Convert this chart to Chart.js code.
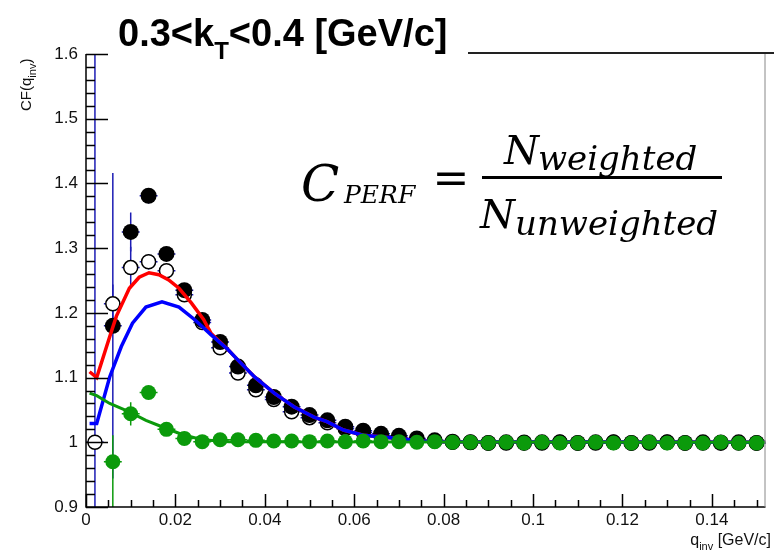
<!DOCTYPE html>
<html>
<head>
<meta charset="utf-8">
<script src="https://cdn.jsdelivr.net/npm/chart.js@4.4.1/dist/chart.umd.min.js"></script>
<style>
  html, body { margin: 0; padding: 0; background: #fff; }
  #wrap { width: 774px; height: 550px; }
</style>
</head>
<body>
<div id="wrap"><canvas id="cfChart" width="774" height="550"></canvas></div>
<script>
// q_inv bin centres [GeV/c]
const qCenters = [0.002, 0.006, 0.010, 0.014, 0.018, 0.022, 0.026, 0.030, 0.034, 0.038,
                  0.042, 0.046, 0.050, 0.054, 0.058, 0.062, 0.066, 0.070, 0.074, 0.078,
                  0.082, 0.086, 0.090, 0.094, 0.098, 0.102, 0.106, 0.110, 0.114, 0.118,
                  0.122, 0.126, 0.130, 0.134, 0.138, 0.142, 0.146, 0.150];
const binHalf = 0.002;

// weighted CF (black filled)
const cfWeighted = [null, 1.180, 1.325, 1.381, 1.291, 1.235, 1.189, 1.155, 1.117, 1.088,
                    1.070, 1.055, 1.042, 1.034, 1.024, 1.018, 1.013, 1.010, 1.006, 1.003,
                    1.001, 1.000, 0.999, 1.000, 0.999, 1.000, 1.000, 0.999, 1.000, 1.000,
                    0.999, 1.000, 1.000, 0.999, 1.000, 0.999, 1.000, 0.999];
const errWeighted = [0, 0.236, 0.030, 0.012, 0.010, 0.008, 0.006, 0.005, 0.004, 0.004,
                     0.003, 0.003, 0.003, 0.002, 0.002, 0.002, 0.002, 0.002, 0.002, 0.002,
                     0.002, 0.002, 0.002, 0.002, 0.002, 0.002, 0.002, 0.002, 0.002, 0.002,
                     0.002, 0.002, 0.002, 0.002, 0.002, 0.002, 0.002, 0.002];

// unweighted CF (open circles)
const cfUnweighted = [1.000, 1.214, 1.270, 1.279, 1.265, 1.228, 1.185, 1.146, 1.107, 1.081,
                      1.066, 1.047, 1.038, 1.030, 1.021, 1.015, 1.010, 1.007, 1.004, 1.002,
                      1.000, 1.000, 0.999, 0.999, 1.000, 0.999, 1.000, 0.999, 0.999, 1.000,
                      0.999, 0.999, 1.000, 0.999, 0.999, 1.000, 0.999, 0.999];
const errUnweighted = [1.0, 0.030, 0.032, 0.012, 0.010, 0.008, 0.006, 0.005, 0.004, 0.004,
                       0.003, 0.003, 0.003, 0.002, 0.002, 0.002, 0.002, 0.002, 0.002, 0.002,
                       0.002, 0.002, 0.002, 0.002, 0.002, 0.002, 0.002, 0.002, 0.002, 0.002,
                       0.002, 0.002, 0.002, 0.002, 0.002, 0.002, 0.002, 0.002];

// C_PERF ratio (green)
const cPerf = [null, 0.970, 1.044, 1.077, 1.020, 1.006, 1.001, 1.004, 1.004, 1.003,
               1.002, 1.002, 1.001, 1.002, 1.001, 1.002, 1.001, 1.001, 1.000, 1.001,
               1.000, 1.000, 0.999, 1.000, 0.999, 1.000, 0.999, 0.999, 1.000, 0.999,
               0.999, 1.000, 0.999, 0.999, 0.999, 1.000, 0.999, 0.999];
const errPerfUp = [0, 0.041, 0.018, 0.008, 0.006, 0.004, 0.003, 0.003, 0.002, 0.002,
                   0.002, 0.002, 0.002, 0.002, 0.002, 0.002, 0.002, 0.002, 0.002, 0.002,
                   0.002, 0.002, 0.002, 0.002, 0.002, 0.002, 0.002, 0.002, 0.002, 0.002,
                   0.002, 0.002, 0.002, 0.002, 0.002, 0.002, 0.002, 0.002];
const errPerfDown = [0, 0.120, 0.018, 0.008, 0.006, 0.004, 0.003, 0.003, 0.002, 0.002,
                     0.002, 0.002, 0.002, 0.002, 0.002, 0.002, 0.002, 0.002, 0.002, 0.002,
                     0.002, 0.002, 0.002, 0.002, 0.002, 0.002, 0.002, 0.002, 0.002, 0.002,
                     0.002, 0.002, 0.002, 0.002, 0.002, 0.002, 0.002, 0.002];

// fit curves
const redX  = [0.0008, 0.0024, 0.0053, 0.0068, 0.0097, 0.0119, 0.0141, 0.0163, 0.0185, 0.0208,
               0.0236, 0.0263, 0.0280, 0.0318, 0.0340, 0.0377, 0.0421, 0.0465, 0.0510, 0.0539,
               0.0576, 0.0620, 0.0664, 0.0708, 0.0752, 0.0788, 0.1520];
const redY  = [1.109, 1.100, 1.163, 1.195, 1.238, 1.255, 1.262, 1.259, 1.251, 1.238,
               1.215, 1.190, 1.168, 1.143, 1.127, 1.101, 1.076, 1.055, 1.039, 1.032,
               1.019, 1.011, 1.008, 1.005, 1.002, 1.001, 1.000];
const blueX = [0.0008, 0.0024, 0.0053, 0.0079, 0.0104, 0.0134, 0.0170, 0.0208, 0.0244, 0.0280,
               0.0318, 0.0340, 0.0377, 0.0421, 0.0465, 0.0510, 0.0539, 0.0576, 0.0620, 0.0664,
               0.0708, 0.0752, 0.0788, 0.1520];
const blueY = [1.029, 1.029, 1.101, 1.148, 1.184, 1.209, 1.217, 1.209, 1.189, 1.166,
               1.143, 1.127, 1.101, 1.076, 1.055, 1.039, 1.032, 1.019, 1.011, 1.008,
               1.005, 1.002, 1.001, 1.000];
const greenX = [0.0008, 0.0024, 0.0053, 0.0097, 0.0134, 0.0170, 0.0215, 0.0260, 0.0320, 0.1520];
const greenY = [1.076, 1.072, 1.060, 1.047, 1.034, 1.024, 1.012, 1.004, 1.001, 1.000];

// axis ticks
const xTicks = [0, 0.02, 0.04, 0.06, 0.08, 0.10, 0.12, 0.14];
const yTicks = [0.9, 1.0, 1.1, 1.2, 1.3, 1.4, 1.5, 1.6];

const GREEN = '#0b9a0b';
const ERR_BLUE = '#1c1cb4';
const AXIS_FONT = '"Liberation Sans", Arial, sans-serif';

function points(xs, ys) {
    const out = [];
    for (let i = 0; i < xs.length; i++) {
        if (ys[i] !== null) out.push({ x: xs[i], y: ys[i] });
    }
    return out;
}

// error bars under the markers
const errorBars = {
    id: 'errorBars',
    beforeDatasetsDraw(chart) {
        const { ctx, chartArea: a, scales: { x, y } } = chart;
        ctx.save();
        ctx.beginPath();
        ctx.rect(a.left, a.top, a.right - a.left, a.bottom - a.top);
        ctx.clip();
        ctx.lineWidth = 1.5;
        const sets = [
            [cfUnweighted, errUnweighted, errUnweighted, ERR_BLUE],
            [cfWeighted, errWeighted, errWeighted, ERR_BLUE],
            [cPerf, errPerfUp, errPerfDown, GREEN]
        ];
        sets.forEach(([vals, up, down, color]) => {
            ctx.strokeStyle = color;
            vals.forEach((v, i) => {
                if (v === null) return;
                const q = qCenters[i];
                const px = x.getPixelForValue(q);
                const py = y.getPixelForValue(v);
                ctx.beginPath();
                ctx.moveTo(px, y.getPixelForValue(v + up[i]));
                ctx.lineTo(px, y.getPixelForValue(v - down[i]));
                ctx.moveTo(x.getPixelForValue(q - binHalf), py);
                ctx.lineTo(x.getPixelForValue(q + binHalf), py);
                ctx.stroke();
            });
        });
        ctx.restore();
    }
};

// ROOT style frame, inside ticks, titles and the formula
const decorations = {
    id: 'decorations',
    afterDraw(chart) {
        const { ctx, chartArea: a, scales: { x, y } } = chart;
        ctx.save();

        // frame
        ctx.strokeStyle = '#000';
        ctx.lineWidth = 1.5;
        ctx.beginPath();
        ctx.moveTo(a.left, a.top);
        ctx.lineTo(a.left, a.bottom);
        ctx.lineTo(a.right, a.bottom);
        ctx.stroke();
        ctx.strokeStyle = '#888';
        ctx.lineWidth = 1;
        ctx.beginPath();
        ctx.moveTo(a.right - 0.5, a.top);
        ctx.lineTo(a.right - 0.5, a.bottom);
        ctx.stroke();
        ctx.strokeStyle = '#222';
        ctx.lineWidth = 2;
        ctx.beginPath();
        ctx.moveTo(468, a.top - 1);
        ctx.lineTo(774, a.top - 1);
        ctx.stroke();

        // y ticks
        ctx.strokeStyle = '#000';
        ctx.lineWidth = 1.5;
        ctx.beginPath();
        for (let v = 0.9; v <= 1.6001; v += 0.02) {
            const py = Math.round(y.getPixelForValue(v)) + 0.5;
            const major = Math.abs(v * 10 - Math.round(v * 10)) < 0.01;
            ctx.moveTo(a.left, py);
            ctx.lineTo(a.left + (major ? 22 : 9), py);
        }
        // x ticks
        for (let v = 0; v <= 0.1521; v += 0.005) {
            const px = Math.round(x.getPixelForValue(v)) + 0.5;
            const major = Math.abs(v * 50 - Math.round(v * 50)) < 0.01;
            ctx.moveTo(px, a.bottom);
            ctx.lineTo(px, a.bottom - (major ? 13 : 7));
        }
        ctx.stroke();

        // title
        ctx.fillStyle = '#000';
        ctx.textBaseline = 'alphabetic';
        ctx.textAlign = 'left';
        let tx = 118;
        ctx.font = 'bold 38px ' + AXIS_FONT;
        ctx.fillText('0.3<k', tx, 46);
        tx += ctx.measureText('0.3<k').width;
        ctx.font = 'bold 24px ' + AXIS_FONT;
        ctx.fillText('T', tx, 59);
        tx += ctx.measureText('T').width;
        ctx.font = 'bold 38px ' + AXIS_FONT;
        ctx.fillText('<0.4 [GeV/c]', tx, 46);

        // y title, rotated
        ctx.save();
        ctx.translate(31, 111);
        ctx.rotate(-Math.PI / 2);
        ctx.fillStyle = '#111';
        let yx = 0;
        ctx.font = '15px ' + AXIS_FONT;
        ctx.fillText('CF(q', yx, 0);
        yx += ctx.measureText('CF(q').width;
        ctx.font = '11px ' + AXIS_FONT;
        ctx.fillText('inv', yx, 5);
        yx += ctx.measureText('inv').width;
        ctx.font = '15px ' + AXIS_FONT;
        ctx.fillText(')', yx, 0);
        ctx.restore();

        // x title, right aligned
        ctx.fillStyle = '#111';
        ctx.font = '16px ' + AXIS_FONT;
        const rest = ' [GeV/c]';
        const wRest = ctx.measureText(rest).width;
        const wQ = ctx.measureText('q').width;
        ctx.font = '11px ' + AXIS_FONT;
        const wSub = ctx.measureText('inv').width;
        const xx = 771 - wRest - wSub - wQ;
        ctx.font = '16px ' + AXIS_FONT;
        ctx.fillText('q', xx, 545);
        ctx.font = '11px ' + AXIS_FONT;
        ctx.fillText('inv', xx + wQ, 550);
        ctx.font = '16px ' + AXIS_FONT;
        ctx.fillText(rest, xx + wQ + wSub, 545);

        // C_PERF = N_weighted / N_unweighted
        const MATH = '"DejaVu Serif", serif';
        ctx.fillStyle = '#000';
        ctx.font = 'italic 50px ' + MATH;
        ctx.fillText('C', 301, 201);
        ctx.font = 'italic 25px ' + MATH;
        ctx.fillText('PERF', 344, 203);
        ctx.font = '44px ' + MATH;
        ctx.textAlign = 'center';
        ctx.textBaseline = 'middle';
        ctx.fillText('=', 451, 182);
        ctx.textAlign = 'left';
        ctx.textBaseline = 'alphabetic';
        ctx.fillRect(482, 176, 240, 3);
        ctx.font = 'italic 40px ' + MATH;
        ctx.fillText('N', 504, 164);
        ctx.fillText('N', 480, 228);
        ctx.font = 'italic 34px ' + MATH;
        ctx.fillText('weighted', 538, 170);
        ctx.fillText('unweighted', 515, 235);

        ctx.restore();
    }
};

const ctx = document.getElementById('cfChart');
new Chart(ctx, {
    type: 'scatter',
    data: {
        datasets: [
            {
                label: 'C_PERF',
                data: points(qCenters, cPerf),
                backgroundColor: GREEN,
                borderColor: GREEN,
                pointRadius: 7.5,
                borderWidth: 0,
                order: 0
            },
            {
                label: 'C_PERF fit',
                data: points(greenX, greenY),
                showLine: true,
                borderColor: GREEN,
                borderWidth: 3,
                pointRadius: 0,
                order: 1
            },
            {
                label: 'fit unweighted',
                data: points(blueX, blueY),
                showLine: true,
                borderColor: '#0000ff',
                borderWidth: 3.5,
                pointRadius: 0,
                order: 2
            },
            {
                label: 'fit weighted',
                data: points(redX, redY),
                showLine: true,
                borderColor: '#ff0000',
                borderWidth: 3.5,
                pointRadius: 0,
                order: 3
            },
            {
                label: 'weighted',
                data: points(qCenters, cfWeighted),
                backgroundColor: '#000',
                borderColor: '#000',
                pointRadius: 8,
                borderWidth: 0,
                order: 4
            },
            {
                label: 'unweighted',
                data: points(qCenters, cfUnweighted),
                backgroundColor: '#fff',
                borderColor: '#000',
                pointRadius: 7,
                borderWidth: 1.5,
                order: 5
            }
        ]
    },
    options: {
        responsive: false,
        animation: false,
        layout: { padding: { top: 54, right: 1, left: 0, bottom: 0 } },
        plugins: {
            legend: { display: false },
            tooltip: { enabled: false }
        },
        scales: {
            x: {
                type: 'linear',
                min: 0,
                max: 0.152,
                afterBuildTicks: s => { s.ticks = xTicks.map(v => ({ value: v })); },
                afterFit: s => { s.height = 43; },
                grid: { display: false, drawTicks: false },
                border: { display: false },
                ticks: {
                    padding: 3,
                    autoSkip: false,
                    maxRotation: 0,
                    color: '#111',
                    font: { family: AXIS_FONT, size: 17 },
                    callback: v => String(+v.toFixed(2))
                }
            },
            y: {
                type: 'linear',
                min: 0.9,
                max: 1.6,
                afterBuildTicks: s => { s.ticks = yTicks.map(v => ({ value: v })); },
                afterFit: s => { s.width = 86; },
                grid: { display: false, drawTicks: false },
                border: { display: false },
                ticks: {
                    padding: 8,
                    autoSkip: false,
                    color: '#111',
                    font: { family: AXIS_FONT, size: 17 },
                    callback: v => String(+v.toFixed(1))
                }
            }
        }
    },
    plugins: [errorBars, decorations]
});
</script>
</body>
</html>
